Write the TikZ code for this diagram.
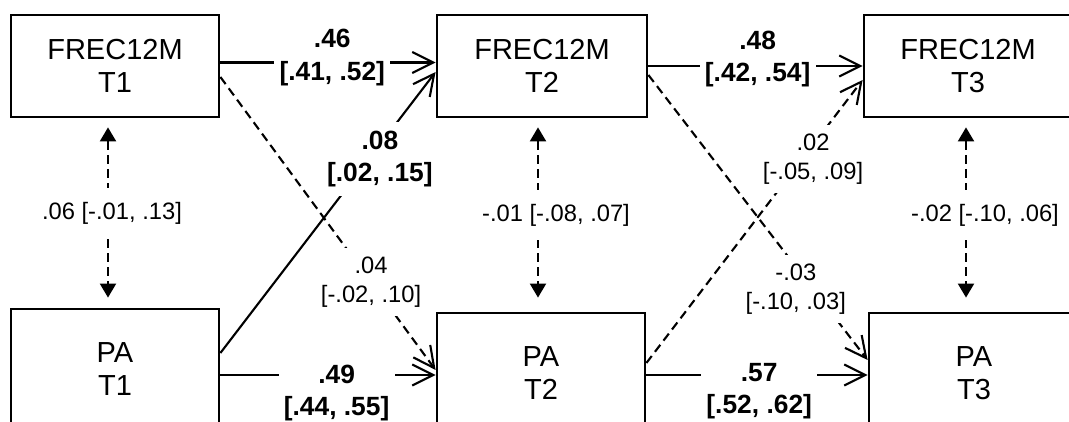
\documentclass[tikz,border=0pt]{standalone}
\usepackage{fontspec}
\setmainfont{Liberation Sans}
\usetikzlibrary{arrows.meta}

\begin{document}
\begin{tikzpicture}[
  box/.style={draw, line width=1.6pt, minimum width=4.16cm, align=center, inner sep=0pt, font=\fontsize{16.5}{19}\selectfont},
  reg/.style={line width=1.2pt, -{Straight Barb[length=0.42cm, width=0.42cm]}},
  dsh/.style={reg, dash pattern=on 5pt off 3pt},
  cov/.style={line width=1.2pt, dash pattern=on 5pt off 3pt, {Triangle[length=0.28cm, width=0.32cm]}-{Triangle[length=0.28cm, width=0.32cm]}, shorten <=0.18cm},
  coef/.style={fill=white, align=center, inner xsep=3pt, inner ysep=5pt, font=\fontsize{13.5}{16.5}\selectfont},
  bcoef/.style={coef, font=\fontsize{15}{18.5}\selectfont\bfseries}
]
  \useasboundingbox (0,0) rectangle (21.38,8.44);
  \clip (0,0) rectangle (21.38,8.44);

  % 变量框
  \node[box, minimum height=2.04cm] (f1) at (2.30,7.12) {FREC12M\\T1};
  \node[box, minimum height=2.04cm, minimum width=4.2cm] (f2) at (10.84,7.12) {FREC12M\\T2};
  \node[box, minimum height=2.04cm] (f3) at (19.36,7.12) {FREC12M\\T3};
  \node[box, minimum height=2.4cm] (p1) at (2.30,1.06) {PA\\T1};
  \node[box, minimum height=2.4cm] (p2) at (10.82,0.98) {PA\\T2};
  \node[box, minimum height=2.4cm, minimum width=4.2cm] (p3) at (19.48,0.98) {PA\\T3};

  % T1 -> T2
  \draw[reg] ([yshift=0.07cm]f1.east) -- ([yshift=0.07cm]f2.west) node[bcoef, pos=0.52, yshift=0.1cm] {.46\\{}[.41, .52]};
  \draw[reg] ([yshift=0.32cm]p1.east) -- ([yshift=-0.12cm]f2.west) node[bcoef, pos=0.69, xshift=0.22cm] {.08\\{}[.02, .15]};
  \draw[dsh] ([yshift=-0.22cm]f1.east) -- ([yshift=0.06cm]p2.west) node[coef, pos=0.70] {.04\\{}[-.02, .10]};
  \draw[reg] ([yshift=-0.12cm]p1.east) -- ([yshift=-0.12cm]p1.east -| p2.west) node[bcoef, pos=0.54, yshift=-0.36cm] {.49\\{}[.44, .55]};

  % T2 -> T3
  \draw[reg] (f2.east) -- (f3.west) node[bcoef, pos=0.51, yshift=0.14cm] {.48\\{}[.42, .54]};
  \draw[dsh] ([yshift=0.2cm]p2.east) -- ([yshift=-0.28cm]f3.west) node[coef, pos=0.72, xshift=0.22cm] {.02\\{}[-.05, .09]};
  \draw[dsh] ([yshift=-0.18cm]f2.east) -- ([yshift=0.26cm]p3.west) node[coef, pos=0.75, xshift=-0.34cm] {-.03\\{}[-.10, .03]};
  \draw[reg] ([yshift=-0.04cm]p2.east) -- ([yshift=-0.04cm]p2.east -| p3.west) node[bcoef, pos=0.51, yshift=-0.32cm] {.57\\{}[.52, .62]};

  % 协方差
  \draw[cov, shorten >=0.2cm] ([xshift=-0.14cm]f1.south) -- ([xshift=-0.14cm]f1.south |- p1.north) node[coef, midway, xshift=0.08cm, inner ysep=0.28cm] {.06 [-.01, .13]};
  \draw[cov, shorten >=0.28cm] ([xshift=-0.08cm]f2.south) -- ([xshift=-0.08cm]f2.south |- p2.north) node[coef, midway, xshift=0.36cm, inner ysep=0.28cm] {-.01 [-.08, .07]};
  \draw[cov, shorten >=0.28cm] ([xshift=-0.04cm]f3.south) -- ([xshift=-0.04cm]f3.south |- p3.north) node[coef, midway, xshift=0.38cm, inner ysep=0.28cm] {-.02 [-.10, .06]};
\end{tikzpicture}
\end{document}
